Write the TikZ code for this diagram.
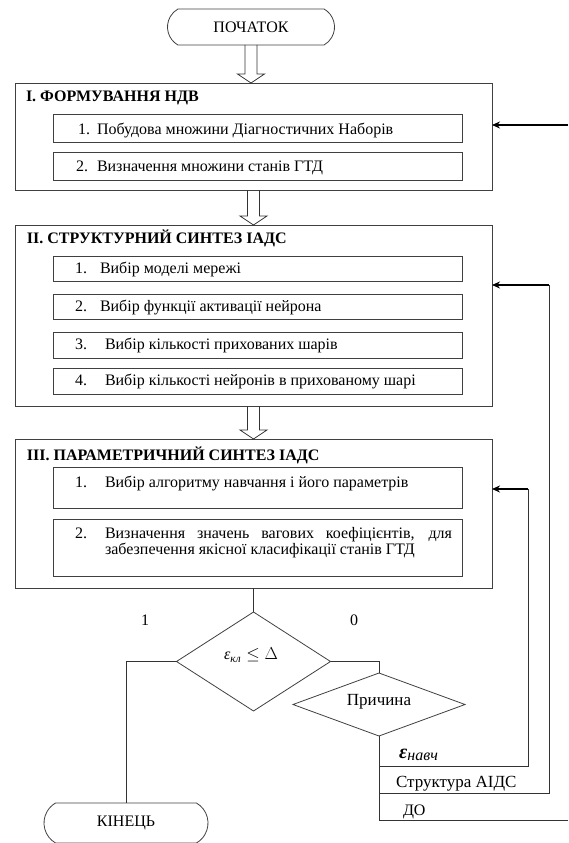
\documentclass[tikz,border=0pt]{standalone}
\usepackage{fontspec}
\setmainfont{Liberation Serif}
\usetikzlibrary{shapes.geometric,shapes.misc,arrows.meta,calc}
\newcommand{\hollowarrow}[2]{%
  \path[hol] let \p1=(#1.south), \p2=(#2.north) in
    (\x1-6pt,\y1) -- (\x1-6pt,\y2+9pt) -- (\x1-13.5pt,\y2+9pt) -- (\x1,\y2)
    -- (\x1+13.5pt,\y2+9pt) -- (\x1+6pt,\y2+9pt) -- (\x1+6pt,\y1);}
\tikzset{
  box/.style={draw=black!75, line width=0.8pt, anchor=north west, inner sep=0pt, outer sep=0pt},
  txt/.style={anchor=base west, inner sep=0pt, outer sep=0pt, font=\fontsize{16}{16}\selectfont},
  ttl/.style={anchor=base west, inner sep=0pt, outer sep=0pt, font=\fontsize{16}{16}\selectfont\bfseries},
  ln/.style={draw=black!80, line width=0.8pt},
  fb/.style={draw=black, line width=1.8pt, -{Stealth[length=8pt,width=7pt]}},
  hol/.style={draw=black!80, line width=0.8pt},
  term/.style={draw=black!75, line width=0.8pt, rounded rectangle, rounded rectangle arc length=120, inner sep=0pt, outer sep=0pt, font=\fontsize{16}{16}\selectfont},
  dia/.style={draw=black!75, line width=0.8pt, diamond, inner sep=0pt, outer sep=0pt},
}
\begin{document}
\begin{tikzpicture}[x=1pt,y=-1pt]
\useasboundingbox (0,0) rectangle (568,843);
% start
\node[term, minimum width=167pt, minimum height=36pt] (start) at (251,27) {ПОЧАТОК};
% box I
\node[box, minimum width=477pt, minimum height=107pt] (b1) at (15,83) {};
\node[ttl] (t1) at (26,101) {I. ФОРМУВАННЯ НДВ};
\node[box, minimum width=409pt, minimum height=28pt] (s11) at (53,114) {};
\node[txt] (n11) at (78,134) {1.};
\node[txt] (t11) at (97,134) {Побудова множини Діагностичних Наборів};
\node[box, minimum width=409pt, minimum height=28pt] (s12) at (53,152) {};
\node[txt] (n12) at (76,171) {2.};
\node[txt] (t12) at (97,171) {Визначення множини станів ГТД};
% box II
\node[box, minimum width=477pt, minimum height=181pt] (b2) at (15,225) {};
\node[ttl] (t2) at (27,243) {II. СТРУКТУРНИЙ СИНТЕЗ ІАДС};
\node[box, minimum width=409pt, minimum height=25pt] (s21) at (53,256) {};
\node[txt] (n21) at (75,273) {1.};
\node[txt] (t21) at (100,273) {Вибір моделі мережі};
\node[box, minimum width=409pt, minimum height=25pt] (s22) at (53,294) {};
\node[txt] (n22) at (75,311) {2.};
\node[txt] (t22) at (100,311) {Вибір функції активації нейрона};
\node[box, minimum width=409pt, minimum height=26pt] (s23) at (53,332) {};
\node[txt] (n23) at (75,349) {3.};
\node[txt] (t23) at (105,349) {Вибір кількості прихованих шарів};
\node[box, minimum width=409pt, minimum height=26pt] (s24) at (53,368) {};
\node[txt] (n24) at (75,385) {4.};
\node[txt] (t24) at (105,385) {Вибір кількості нейронів в прихованому шарі};
% box III
\node[box, minimum width=477pt, minimum height=149pt] (b3) at (15,439) {};
\node[ttl] (t3) at (27,460) {III. ПАРАМЕТРИЧНИЙ СИНТЕЗ ІАДС};
\node[box, minimum width=409pt, minimum height=41pt] (s31) at (53,467) {};
\node[txt] (n31) at (75,487) {1.};
\node[txt] (t31) at (105,487) {Вибір алгоритму навчання і його параметрів};
\node[box, minimum width=409pt, minimum height=57pt] (s32) at (53,519) {};
\node[txt] (n32) at (75,538) {2.};
\node[txt] (t32a) at (105,538) {\makebox[347pt][s]{Визначення значень вагових коефіцієнтів, для}};
\node[txt] (t32b) at (105,554) {забезпечення якісної класифікації станів ГТД};
% hollow arrows
\hollowarrow{start}{b1}
\hollowarrow{b1}{b2}
\hollowarrow{b2}{b3}
% decision
\node[dia, minimum width=154pt, minimum height=99pt, aspect=1.556] (d1) at (253.5,661.5) {};
\node[inner sep=0pt, font=\fontsize{16}{16}\selectfont] (d1t) at (251,655) {{\itshape ε}\textsubscript{\itshape кл}\hspace{5pt}$\leq\Delta$};
\node[inner sep=0pt, font=\fontsize{16}{16}\selectfont] (l1) at (145,620) {1};
\node[inner sep=0pt, font=\fontsize{16}{16}\selectfont] (l0) at (354,620) {0};
\node[dia, minimum width=172pt, minimum height=63pt, aspect=2.73] (d2) at (379,704.5) {};
\node[inner sep=0pt, font=\fontsize{17}{17}\selectfont] (d2t) at (379,702) {Причина};
% end
\node[term, minimum width=164pt, minimum height=40pt] (end) at (126,823) {КІНЕЦЬ};
% connectors
\draw[ln] (b3.south) -- (d1.north);
\draw[ln] (d1.west) -| (end.north);
\draw[ln] (d1.east) -| (d2.north);
\coordinate (bot) at (379,820);
\coordinate (botr) at (568,820);
\draw[ln] (d2.south) -- (bot) -- (botr);
\coordinate (e1) at (379,766);
\coordinate (e2) at (528,766);
\coordinate (a3s) at (528,489);
\coordinate (a3) at (492,489);
\draw[ln] (e1) -- (e2) -- (a3s);
\draw[fb] (a3s) -- (a3);
\coordinate (e3) at (379,793);
\coordinate (e4) at (549,793);
\coordinate (a2s) at (549,285);
\coordinate (a2) at (492,285);
\draw[ln] (e3) -- (e4) -- (a2s);
\draw[fb] (a2s) -- (a2);
\coordinate (a1s) at (568,125);
\coordinate (a1) at (492,125);
\draw[fb] (a1s) -- (a1);
% labels at bottom
\node[anchor=base west, inner sep=0pt] (eps) at (399,758) {{\fontsize{20}{20}\selectfont\bfseries\itshape ε}\raisebox{-2pt}{\fontsize{16}{16}\selectfont\itshape навч}};
\node[txt, font=\fontsize{17}{17}\selectfont] (str) at (396,787) {Структура АІДС};
\node[txt] (do) at (403,815) {ДО};
\end{tikzpicture}
\end{document}
